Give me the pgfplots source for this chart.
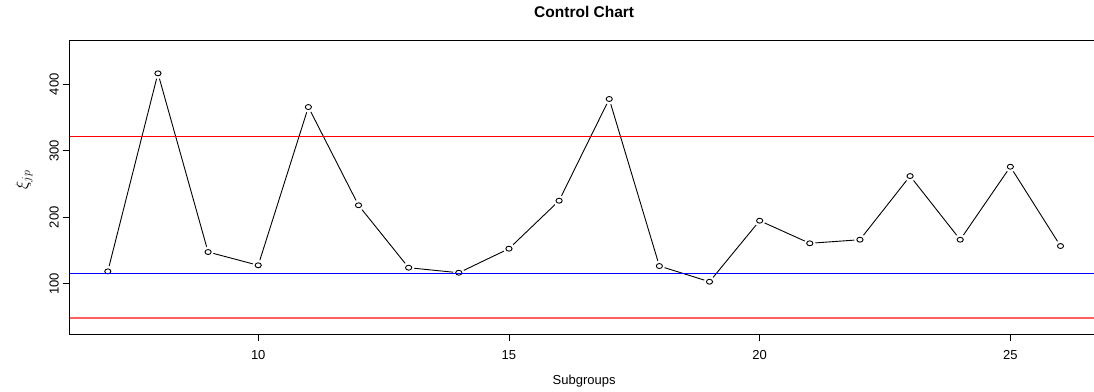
\documentclass[border=0pt]{standalone}
\usepackage{pgfplots}
\pgfplotsset{compat=1.18}
\usepackage{fontspec}
\setmainfont{Liberation Sans}
\definecolor{clblue}{RGB}{0,0,255}
\definecolor{clred}{RGB}{255,0,0}
\definecolor{lclred}{RGB}{255,95,95}
\begin{document}
\begin{tikzpicture}
\begin{axis}[
  name=ax,
  scale only axis,
  width=1028.9pt, height=293.6pt,
  xmin=6.24, xmax=26.76,
  ymin=23.9, ymax=465.6,
  xtick={10,15,20,25},
  ytick={100,200,300,400},
  tick pos=left,
  tick align=outside,
  major tick length=7pt,
  tick style={black, line width=0.8pt},
  axis line style={black, line width=0.9pt},
  /pgf/number format/assume math mode=true,
  ticklabel style={font=\fontsize{13}{15}\selectfont},
  xticklabel style={anchor=base},
  xticklabel shift=18pt,
  yticklabel style={rotate=90, anchor=base},
  yticklabel shift=4pt,
  clip mode=individual,
]
\addplot[color=black, line width=0.9pt] coordinates {
(7,118.6) (8,416.5) (9,147.7) (10,127.7) (11,365.8) (12,218) (13,124.1)
(14,116.5) (15,152.7) (16,224.9) (17,377.9) (18,126.6) (19,103) (20,194.8)
(21,160.8) (22,166.2) (23,262) (24,166.2) (25,276) (26,156.7)};
\addplot[only marks, mark=*, mark size=5.5pt, color=white, mark options={draw=white, fill=white}] coordinates {
(7,118.6) (8,416.5) (9,147.7) (10,127.7) (11,365.8) (12,218) (13,124.1)
(14,116.5) (15,152.7) (16,224.9) (17,377.9) (18,126.6) (19,103) (20,194.8)
(21,160.8) (22,166.2) (23,262) (24,166.2) (25,276) (26,156.7)};
\addplot[only marks, mark=o, mark size=3.1pt, color=black, mark options={draw=black, line width=0.9pt, yscale=0.8}] coordinates {
(7,118.6) (8,416.5) (9,147.7) (10,127.7) (11,365.8) (12,218) (13,124.1)
(14,116.5) (15,152.7) (16,224.9) (17,377.9) (18,126.6) (19,103) (20,194.8)
(21,160.8) (22,166.2) (23,262) (24,166.2) (25,276) (26,156.7)};
\addplot[color=clred, line width=1.2pt] coordinates {(6.24,321.8) (26.76,321.8)};
\addplot[color=clblue, line width=1.5pt] coordinates {(6.24,115.6) (26.76,115.6)};
\addplot[color=lclred, line width=1.8pt] coordinates {(6.24,48.9) (26.76,48.9)};
\end{axis}
\node[rotate=90, font=\fontsize{18}{20}\selectfont] at ([shift={(-45.7pt,7.5pt)}]ax.west) {$\xi_{jp}$};
\node[anchor=base, font=\fontsize{15.5}{18}\selectfont\bfseries] at ([yshift=22.7pt]ax.north) {Control Chart};
\node[anchor=base, font=\fontsize{13}{15}\selectfont] at ([yshift=-50pt]ax.south) {Subgroups};
\pgfresetboundingbox
\path[use as bounding box] ([shift={(-69.7pt,-56.7pt)}]ax.south west) rectangle ([shift={(-4.6pt,40.7pt)}]ax.north east);
\end{tikzpicture}
\end{document}
